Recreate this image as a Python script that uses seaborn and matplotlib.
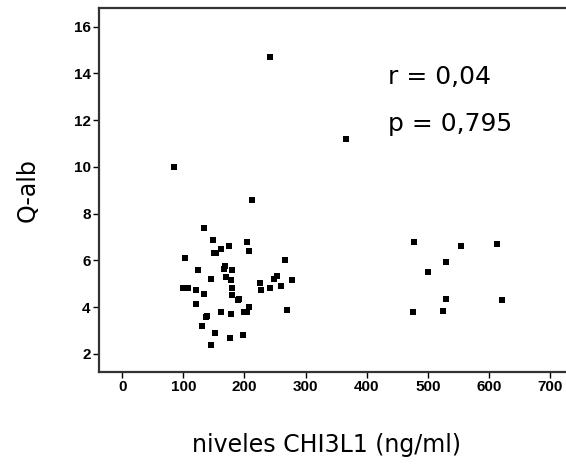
import matplotlib
matplotlib.use("Agg")
import matplotlib.pyplot as plt
import seaborn as sns
import pandas as pd

# CHI3L1 levels (ng/ml) and Q-alb
chi3l1 = [
    84, 241, 366, 212,
    134, 148, 103, 150, 154, 162, 174, 204, 208,
    124, 168, 167, 180, 169, 178, 146, 180, 99, 107, 121,
    134, 179, 190, 191, 121, 207, 200, 204, 161, 178, 137, 138,
    131, 152, 197, 177, 146,
    225, 227, 248, 253, 242, 259, 267, 278, 269,
    478, 555, 613, 530, 501, 530, 621, 524, 475,
]
q_alb = [
    10.0, 14.7, 11.2, 8.6,
    7.37, 6.89, 6.11, 6.32, 6.32, 6.5, 6.6, 6.8, 6.4,
    5.6, 5.75, 5.63, 5.6, 5.29, 5.14, 5.21, 4.81, 4.81, 4.81, 4.72,
    4.55, 4.51, 4.32, 4.35, 4.13, 4.0, 3.78, 3.78, 3.8, 3.7, 3.58, 3.61,
    3.19, 2.9, 2.8, 2.66, 2.39,
    5.01, 4.75, 5.21, 5.31, 4.81, 4.91, 6.0, 5.14, 3.88,
    6.8, 6.6, 6.7, 5.91, 5.51, 4.35, 4.31, 3.84, 3.77,
]
x_ticks = [0, 100, 200, 300, 400, 500, 600, 700]
y_ticks = [2, 4, 6, 8, 10, 12, 14, 16]

df = pd.DataFrame({"chi3l1": chi3l1, "q_alb": q_alb})

sns.set_style("white")
plt.rcParams["font.family"] = ["DejaVu Sans"]
plt.rcParams["text.color"] = "black"
plt.rcParams["xtick.color"] = "black"
plt.rcParams["ytick.color"] = "black"

fig = plt.figure(figsize=(5.66, 4.73), dpi=100)
ax = fig.add_axes([99 / 566, 101 / 473, 1 - 99 / 566, 364 / 473])

sns.scatterplot(data=df, x="chi3l1", y="q_alb", marker="s", s=24,
                color="black", edgecolor="black", linewidth=0, ax=ax)

ax.set_xlim(-38, 726)
ax.set_ylim(1.22, 16.8)
ax.set_xticks(x_ticks)
ax.set_yticks(y_ticks)
for lab in ax.get_xticklabels() + ax.get_yticklabels():
    lab.set_fontfamily("Liberation Sans")
    lab.set_fontweight("bold")
    lab.set_fontsize(11)
ax.tick_params(direction="out", length=4, width=1, colors="black",
               bottom=True, left=True, pad=2)

for side in ["left", "top", "bottom"]:
    ax.spines[side].set_color("#333333")
    ax.spines[side].set_linewidth(1.6)
ax.spines["right"].set_visible(False)

ax.set_xlabel("")
ax.set_ylabel("")
fig.text(327 / 566, 1 - 445 / 473, "niveles CHI3L1 (ng/ml)", fontsize=17,
         ha="center", va="center", color="black")
fig.text(28 / 566, 1 - 190 / 473, "Q-alb", fontsize=17, rotation=90,
         ha="center", va="center", color="black")

ax.text(388 / 566, 1 - 77 / 473, "r = 0,04", fontsize=18, ha="left",
        va="center", color="black", transform=fig.transFigure)
ax.text(388 / 566, 1 - 124 / 473, "p = 0,795", fontsize=18, ha="left",
        va="center", color="black", transform=fig.transFigure)

fig.savefig("out.png", dpi=100)
plt.close(fig)
